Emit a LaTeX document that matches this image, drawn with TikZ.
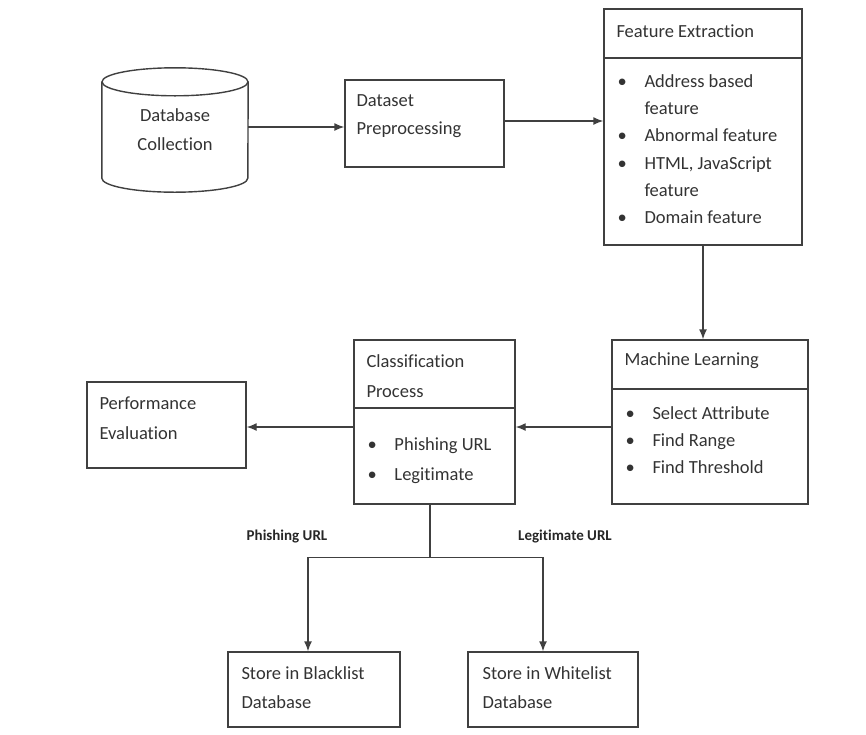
\documentclass[tikz,border=0pt]{standalone}
\usepackage{fontspec}
\setmainfont{Carlito}[Ligatures=NoCommon]
\usetikzlibrary{arrows.meta}
\newcommand{\bitem}{\makebox[27pt][l]{\textbullet}}
\newcommand{\bgap}{\makebox[27pt][l]{}}

\begin{document}
\begin{tikzpicture}[x=1pt,y=-1pt,
  outline/.style={draw=black!75, line width=1.4pt},
  box/.style={outline, inner sep=0pt},
  txt/.style={anchor=north west, inner sep=0pt, align=left, text=black!80, font=\fontsize{18.5pt}{29pt}\selectfont},
  lst/.style={txt, font=\fontsize{18.5pt}{27.3pt}\selectfont},
  lbl/.style={inner sep=0pt, text=black!85, font=\fontsize{15pt}{17pt}\selectfont\bfseries},
  flow/.style={outline, -{Latex[length=10pt,width=8pt]}}]
\useasboundingbox (0,0) rectangle (866,734);
\node[inner sep=0pt, minimum width=146pt, minimum height=124pt, align=center, text=black!80, font=\fontsize{18.5pt}{29pt}\selectfont] (db) at (175,130) {Database\\Collection};
\draw[outline] ([yshift=-14pt]db.north west) -- ([yshift=14pt]db.south west) arc[start angle=180, end angle=360, x radius=73pt, y radius=14pt] -- ([yshift=-14pt]db.north east);
\draw[outline] ([yshift=-14pt]db.north) ellipse [x radius=73pt, y radius=14pt];
\node[box, minimum width=159pt, minimum height=87pt] (prep) at (424.5,123.5) {};
\node[txt, font=\fontsize{18.5pt}{28pt}\selectfont] (preptxt) at ([shift={(12pt,-15pt)}]prep.north west) {Dataset\\Preprocessing};
\node[box, minimum width=198pt, minimum height=236pt] (feat) at (703,127) {};
\draw[outline] (feat.west |- 0,58) -- (feat.east |- 0,58);
\node[txt] (feattitle) at ([shift={(13pt,-16pt)}]feat.north west) {Feature Extraction};
\node[lst] (featlist) at ([shift={(14pt,-66pt)}]feat.north west) {\bitem Address based\\ \bgap feature\\ \bitem Abnormal feature\\ \bitem HTML, JavaScript\\ \bgap feature\\ \bitem Domain feature};
\node[box, minimum width=196pt, minimum height=164pt] (ml) at (710,422) {};
\draw[outline] (ml.west |- 0,389) -- (ml.east |- 0,389);
\node[txt] (mltitle) at ([shift={(13pt,-13pt)}]ml.north west) {Machine Learning};
\node[lst] (mllist) at ([shift={(14pt,-67pt)}]ml.north west) {\bitem Select Attribute\\ \bitem Find Range\\ \bitem Find Threshold};
\node[box, minimum width=161pt, minimum height=164pt] (cls) at (434.5,422) {};
\draw[outline] (cls.west |- 0,408) -- (cls.east |- 0,408);
\node[txt, font=\fontsize{18.5pt}{30pt}\selectfont] (clstitle) at ([shift={(13pt,-15pt)}]cls.north west) {Classification\\Process};
\node[txt, font=\fontsize{18.5pt}{30pt}\selectfont] (clslist) at ([shift={(14pt,-98pt)}]cls.north west) {\bitem Phishing URL\\ \bitem Legitimate};
\node[box, minimum width=159pt, minimum height=86pt] (perf) at (166.5,425) {};
\node[txt, font=\fontsize{18.5pt}{30pt}\selectfont] (perftxt) at ([shift={(13pt,-15pt)}]perf.north west) {Performance\\Evaluation};
\node[box, minimum width=172pt, minimum height=75pt] (bl) at (314,689.5) {};
\node[txt] (bltxt) at ([shift={(14pt,-15pt)}]bl.north west) {Store in Blacklist\\Database};
\node[box, minimum width=170pt, minimum height=75pt] (wl) at (553,689.5) {};
\node[txt] (wltxt) at ([shift={(15pt,-15pt)}]wl.north west) {Store in Whitelist\\Database};
\node[lbl] (phish) at (287,536) {Phishing URL};
\node[lbl] (legit) at (565,536) {Legitimate URL};
%Drawing arrows
\draw[flow] ([yshift=3pt]db.east) -- ([yshift=3pt]db.east -| prep.west);
\draw[flow] ([yshift=2.5pt]prep.east) -- ([yshift=2.5pt]prep.east -| feat.west);
\draw[flow] (feat.south) -- (feat.south |- ml.north);
\draw[flow] ([yshift=-5pt]ml.west) -- ([yshift=-5pt]ml.west -| cls.east);
\draw[flow] ([yshift=-5pt]cls.west) -- ([yshift=-5pt]cls.west -| perf.east);
\coordinate (split) at ([xshift=-4.5pt,yshift=-53pt]cls.south);
\draw[outline] (split |- cls.south) -- (split);
\draw[flow] (split) -| ([xshift=-6pt]bl.north);
\draw[flow] (split) -| ([xshift=-10pt]wl.north);
\end{tikzpicture}
\end{document}
